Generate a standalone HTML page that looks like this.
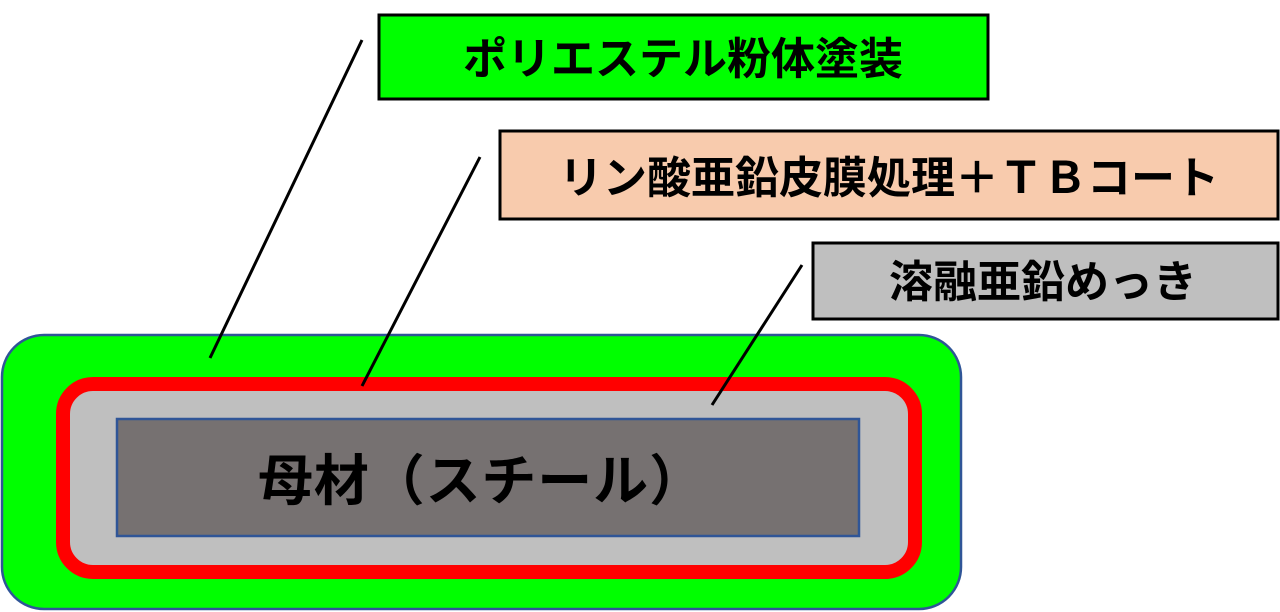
<!DOCTYPE html>
<html><head><meta charset="utf-8"><style>
html,body{margin:0;padding:0;background:#fff;width:1280px;height:612px;overflow:hidden}
svg text{font-family:"Liberation Sans","Noto Sans CJK JP",sans-serif;font-weight:bold;fill:#000}
</style></head><body>
<svg width="1280" height="612" viewBox="0 0 1280 612" xmlns="http://www.w3.org/2000/svg">
<rect x="2" y="335" width="959" height="274" rx="42" fill="#00ff00" stroke="#2f5597" stroke-width="2.5"/>
<rect x="63" y="384" width="852" height="188" rx="30" fill="#bfbfbf" stroke="#ff0000" stroke-width="14"/>
<rect x="117" y="419" width="742" height="117" fill="#767171" stroke="#2f5597" stroke-width="2.5"/>
<text x="258" y="500" font-size="55" text-anchor="start" textLength="446">母材（スチール）</text>
<rect x="379" y="15" width="609" height="84" fill="#00ff00" stroke="#000" stroke-width="3"/>
<text x="683" y="74" font-size="44" text-anchor="middle">ポリエステル粉体塗装</text>
<rect x="500" y="131" width="778" height="88" fill="#f8cbad" stroke="#000" stroke-width="3"/>
<text x="889" y="193" font-size="44" text-anchor="middle">リン酸亜鉛皮膜処理＋ＴＢコート</text>
<rect x="813" y="243" width="465" height="76" fill="#bfbfbf" stroke="#000" stroke-width="3"/>
<text x="1043" y="297" font-size="44" text-anchor="middle">溶融亜鉛めっき</text>
<g stroke="#000" stroke-width="3">
<line x1="362" y1="40" x2="210" y2="358"/>
<line x1="480" y1="157" x2="362" y2="386"/>
<line x1="802" y1="265" x2="712" y2="405"/>
</g>
</svg>
</body></html>
